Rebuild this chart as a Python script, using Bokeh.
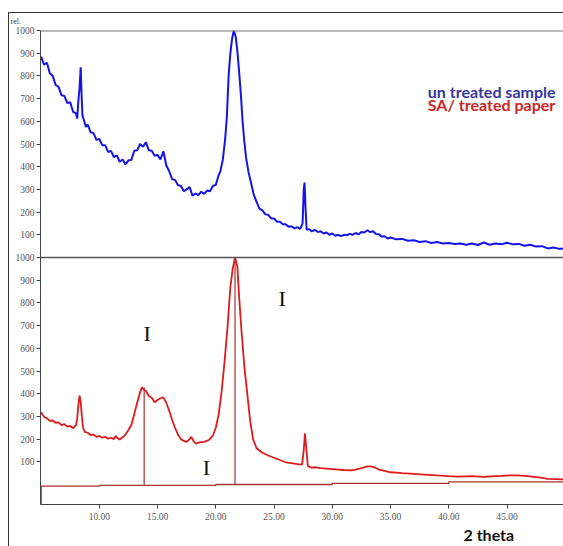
from bokeh.plotting import figure
from bokeh.layouts import column
from bokeh.models import Range1d, FixedTicker, NumeralTickFormatter, Span, Label, Title
from bokeh.embed import file_html
from bokeh.resources import INLINE
import numpy as np

# ---------------- data ----------------
untreated_2theta = [
    5.00, 5.25, 5.50, 5.75, 6.00, 6.25, 6.50, 6.75, 7.00, 7.25,
    7.50, 7.75, 8.00, 8.10, 8.20, 8.30, 8.40, 8.48, 8.55, 8.65,
    8.85, 9.00, 9.25, 9.50, 9.75, 10.00, 10.25, 10.50, 10.75, 11.00,
    11.25, 11.50, 11.75, 12.00, 12.25, 12.50, 12.75, 13.00, 13.25, 13.50,
    13.75, 14.00, 14.25, 14.50, 14.75, 15.00, 15.25, 15.50, 15.75, 16.00,
    16.25, 16.50, 16.75, 17.00, 17.25, 17.50, 17.75, 18.00, 18.25, 18.50,
    18.75, 19.00, 19.25, 19.50, 19.75, 20.00, 20.20, 20.40, 20.60, 20.80,
    20.95, 21.10, 21.25, 21.40, 21.55, 21.70, 21.85, 22.00, 22.15, 22.30,
    22.45, 22.60, 22.80, 23.00, 23.25, 23.50, 23.75, 24.00, 24.25, 24.50,
    24.75, 25.00, 25.25, 25.50, 25.75, 26.00, 26.25, 26.50, 26.75, 27.00,
    27.25, 27.45, 27.55, 27.62, 27.70, 27.80, 28.00, 28.25, 28.50, 28.75,
    29.00, 29.25, 29.50, 29.75, 30.00, 30.25, 30.50, 30.75, 31.00, 31.25,
    31.50, 31.75, 32.00, 32.25, 32.50, 32.75, 33.00, 33.25, 33.50, 33.75,
    34.00, 34.25, 34.50, 34.75, 35.00, 35.50, 36.00, 36.50, 37.00, 37.50,
    38.00, 38.50, 39.00, 39.50, 40.00, 40.50, 41.00, 41.50, 42.00, 42.50,
    43.00, 43.50, 44.00, 44.50, 45.00, 45.50, 46.00, 46.50, 47.00, 47.50,
    48.00, 48.50, 49.00, 49.50, 49.90,
]
untreated_counts = [
    885, 850, 858, 812, 800, 760, 752, 715, 712, 680,
    684, 642, 635, 612, 690, 745, 838, 715, 625, 610,
    575, 585, 552, 548, 518, 522, 495, 495, 465, 470,
    442, 450, 422, 432, 410, 428, 430, 470, 472, 500,
    488, 508, 472, 470, 448, 452, 432, 468, 405, 380,
    345, 342, 318, 316, 292, 300, 310, 272, 282, 275,
    290, 280, 295, 292, 315, 320, 355, 382, 430, 520,
    620, 800, 900, 965, 1000, 975, 910, 820, 720, 600,
    510, 440, 378, 335, 278, 245, 215, 208, 190, 188,
    172, 172, 158, 158, 146, 146, 136, 138, 128, 134,
    126, 150, 300, 330, 220, 122, 125, 115, 122, 112,
    116, 106, 110, 100, 106, 96, 100, 94, 100, 98,
    104, 100, 108, 102, 112, 110, 120, 112, 116, 104,
    102, 92, 94, 84, 88, 80, 82, 74, 76, 68,
    72, 64, 68, 62, 64, 60, 62, 56, 62, 55,
    66, 56, 62, 58, 65, 58, 60, 52, 56, 48,
    50, 40, 44, 38, 40,
]

treated_2theta = [
    5.00, 5.25, 5.50, 5.75, 6.00, 6.25, 6.50, 6.75, 7.00, 7.25,
    7.50, 7.75, 8.00, 8.10, 8.20, 8.30, 8.40, 8.50, 8.60, 8.75,
    9.00, 9.25, 9.50, 9.75, 10.00, 10.25, 10.50, 10.75, 11.00, 11.25,
    11.40, 11.55, 11.75, 12.00, 12.25, 12.50, 12.75, 13.00, 13.25, 13.50,
    13.65, 13.80, 14.00, 14.25, 14.50, 14.75, 15.00, 15.25, 15.50, 15.75,
    16.00, 16.25, 16.50, 16.75, 17.00, 17.25, 17.50, 17.75, 17.90, 18.10,
    18.30, 18.60, 19.00, 19.40, 19.75, 20.00, 20.25, 20.50, 20.75, 21.00,
    21.25, 21.45, 21.65, 21.85, 22.00, 22.20, 22.45, 22.70, 22.95, 23.20,
    23.50, 23.75, 24.00, 24.50, 25.00, 25.50, 26.00, 26.50, 27.00, 27.40,
    27.55, 27.65, 27.75, 27.90, 28.20, 28.60, 29.00, 29.50, 30.00, 30.50,
    31.00, 31.60, 32.00, 32.50, 33.00, 33.30, 33.70, 34.00, 34.50, 35.00,
    35.50, 36.00, 37.00, 37.90, 39.00, 40.00, 40.80, 42.00, 43.00, 43.60,
    44.50, 45.20, 45.90, 46.80, 47.50, 47.90, 48.50, 49.20, 49.90,
]
treated_counts = [
    318, 298, 292, 280, 282, 272, 274, 262, 266, 255,
    258, 248, 262, 290, 350, 392, 365, 300, 250, 232,
    228, 218, 220, 210, 214, 206, 210, 202, 206, 200,
    214, 205, 198, 208, 220, 240, 262, 310, 360, 405,
    428, 420, 412, 390, 382, 362, 372, 380, 384, 360,
    325, 285, 250, 220, 200, 192, 188, 200, 210, 190,
    180, 186, 188, 196, 215, 250, 310, 410, 540, 690,
    870, 950, 1000, 960, 830, 680, 520, 400, 280, 200,
    160, 150, 140, 128, 118, 108, 98, 94, 90, 88,
    150, 225, 170, 82, 74, 76, 72, 70, 68, 66,
    64, 62, 66, 72, 80, 80, 74, 66, 60, 54,
    52, 50, 47, 44, 40, 37, 35, 37, 34, 36,
    38, 40, 40, 37, 33, 30, 25, 24, 22,
]

# background line under the treated pattern (stepped)
baseline_2theta = [5.0, 10.0, 20.0, 30.0, 40.0, 49.9]
baseline_counts = [-7, -4, 0, 5, 12, 12]

# marked reflections (vertical lines) in the treated pattern
marker_2theta = [13.85, 21.65]
marker_top = [427, 1000]
marker_bottom = [-4, 0]

# "I" annotations (2theta, counts)
mark_text_2theta = [14.1, 25.7, 19.2]
mark_text_counts = [665, 819, 75]

x_ticks = [10, 15, 20, 25, 30, 35, 40, 45]
y_tick_values = [100, 200, 300, 400, 500, 600, 700, 800, 900, 1000]
y_tick_labels = ["100", "200", "300", "400", "500", "600", "700", "800", "900", "1000"]

PANEL_OFFSET = 1000  # upper panel sits on top of the lower one

BLUE = "#1414e6"
RED = "#e01a1a"
DARK_RED = "#a8322d"
AXIS_GREY = "#444444"

p = figure(width=554, height=533, output_backend="svg", toolbar_location=None,
           x_range=Range1d(4.95, 49.85), y_range=Range1d(-88, 2000),
           min_border_left=31, min_border_right=0, min_border_top=17, min_border_bottom=42)
p.xgrid.visible = False
p.ygrid.visible = False
p.outline_line_color = None
p.background_fill_color = "white"
p.border_fill_color = "white"

upper_y = np.array(untreated_counts) + PANEL_OFFSET
p.line(untreated_2theta, upper_y, line_color=BLUE, line_width=2.0)
p.line(treated_2theta, treated_counts, line_color=RED, line_width=1.8)

p.step(baseline_2theta, baseline_counts, mode="after", line_color=DARK_RED, line_width=1.3)
p.segment(x0=marker_2theta, y0=marker_bottom, x1=marker_2theta, y1=marker_top,
          line_color=DARK_RED, line_width=1.2)
p.segment(x0=[baseline_2theta[0]], y0=[baseline_counts[0]], x1=[baseline_2theta[0]], y1=[-88],
          line_color=DARK_RED, line_width=1.5)

p.text(x=mark_text_2theta, y=mark_text_counts, text=["I", "I", "I"],
       text_font="Liberation Serif", text_font_size="22px", text_color="#111111",
       text_align="center", text_baseline="middle")

# panel separators
p.add_layout(Span(location=PANEL_OFFSET, dimension="width", line_color="#555555", line_width=1.5))
p.add_layout(Span(location=2 * PANEL_OFFSET, dimension="width", line_color="#777777", line_width=2))

# axes
ticks_all = y_tick_values + [v + PANEL_OFFSET for v in y_tick_values]
overrides = {}
for v, lab in zip(y_tick_values, y_tick_labels):
    overrides[v] = lab
    overrides[v + PANEL_OFFSET] = lab
p.yaxis.ticker = FixedTicker(ticks=ticks_all)
p.yaxis.major_label_overrides = overrides
p.xaxis.ticker = FixedTicker(ticks=x_ticks)
p.xaxis.formatter = NumeralTickFormatter(format="0.00")
for ax in (p.xaxis[0], p.yaxis[0]):
    ax.axis_line_color = AXIS_GREY
    ax.major_tick_line_color = AXIS_GREY
    ax.major_tick_out = 4
    ax.major_tick_in = 0
    ax.minor_tick_line_color = None
    ax.major_label_text_font = "Liberation Sans Narrow"
    ax.major_label_text_color = "#555555"
    ax.major_label_text_font_size = "9.5px"
p.yaxis.major_label_standoff = 2
p.xaxis.major_label_standoff = 4

# "rel." unit mark at the top-left, as the figure title
p.title.text = "rel."
p.title.align = "left"
p.title.offset = -30
p.title.standoff = 6
p.title.vertical_align = "top"
p.title.text_font = "Liberation Sans Narrow"
p.title.text_font_size = "8px"
p.title.text_font_style = "normal"
p.title.text_color = "#444444"

# x-axis name at the lower right
p.add_layout(Title(text="2 theta", align="left", offset=423, standoff=0,
                   text_font="Lato", text_font_style="bold", text_font_size="16px",
                   text_color="#111111"), "below")

# legend texts
p.add_layout(Label(x=38.2, y=1000 + 731, text="un treated sample", text_font="Lato",
                   text_font_style="bold", text_font_size="16px", text_color="#3535a0",
                   text_baseline="middle"))
p.add_layout(Label(x=38.2, y=1000 + 676, text="SA/ treated paper", text_font="Lato",
                   text_font_style="bold", text_font_size="16px", text_color="#cc2626",
                   text_baseline="middle"))

# outer frame drawn as CSS border of the wrapping layout
layout = column(p, margin=(12, 0, 0, 8),
                styles={"border-left": "1px solid #333333", "border-top": "1px solid #333333"})

open("out.html", "w").write(file_html(layout, INLINE))
